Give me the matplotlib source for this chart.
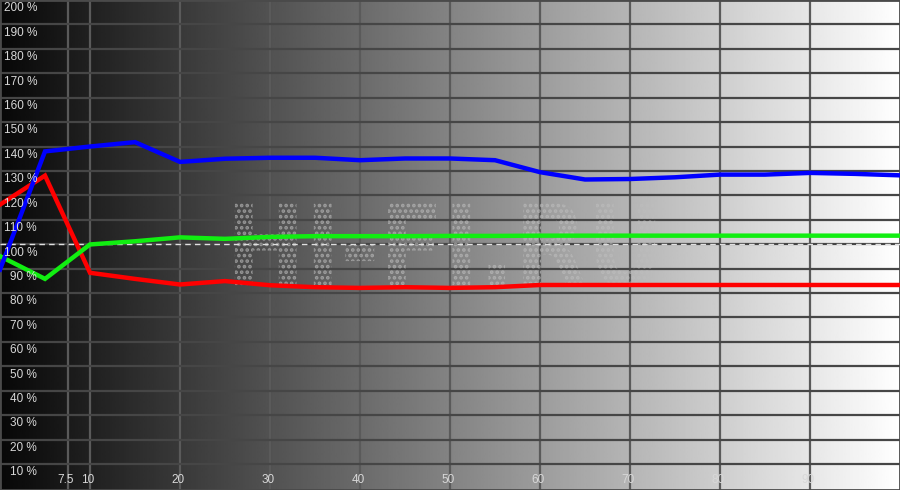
import numpy as np
import matplotlib
matplotlib.use("Agg")
import matplotlib.pyplot as plt
from matplotlib.textpath import TextPath
from matplotlib.patches import PathPatch
from matplotlib.font_manager import FontProperties
from matplotlib.transforms import Affine2D

# ---- data ----
x_vals = [0, 5, 10, 15, 20, 25, 30, 35, 40, 45, 50, 55, 60, 65, 70, 75, 80, 85, 90, 95, 100]
blue_vals = [89.6, 138.0, 140.0, 141.8, 133.7, 135.0, 135.4, 135.4, 134.4, 135.1, 135.1,
             134.4, 129.5, 126.5, 126.7, 127.4, 128.5, 128.5, 129.2, 128.8, 128.2]
red_vals = [116.2, 128.1, 88.3, 85.8, 83.5, 84.9, 83.2, 82.4, 82.1, 82.4, 82.1,
            82.4, 83.3, 83.3, 83.3, 83.3, 83.3, 83.3, 83.3, 83.3, 83.3]
green_vals = [95.1, 85.8, 99.9, 101.2, 102.8, 102.2, 103.0, 103.3, 103.3, 103.3, 103.4,
              103.4, 103.5, 103.5, 103.5, 103.5, 103.5, 103.5, 103.5, 103.5, 103.5]
x_ticks = [7.5, 10, 20, 30, 40, 50, 60, 70, 80, 90]
x_tick_labels = ["7.5", "10", "20", "30", "40", "50", "60", "70", "80", "90"]
y_ticks = list(range(10, 201, 10))
y_tick_labels = [f"{v} %" for v in y_ticks]
reference_level = 100
watermark = "HI-FI.RU"

fig = plt.figure(figsize=(9, 4.9), dpi=100)
ax = fig.add_axes([0, 0, 1, 1])
ax.set_xlim(0, 100)
ax.set_ylim(-0.65, 200)

# background gradient (black -> white)
grad = np.linspace(0.03, 1.0, 512).reshape(1, -1)
ax.imshow(grad, cmap="gray", vmin=0, vmax=1, aspect="auto",
          extent=[0, 100, -0.65, 200], zorder=0, interpolation="bilinear")

# grid
for xv in x_ticks:
    ax.axvline(xv, color="#5a5a5a", lw=1.6, zorder=1)
for yv in y_ticks:
    ax.axhline(yv, color="#464646", lw=1.6, zorder=1)

# watermark with dotted fill
fp = FontProperties(family="DejaVu Sans", weight="bold")
tp = TextPath((0, 0), watermark, size=50, prop=fp)
bb = tp.get_extents()
x0, x1, y0, y1 = 26.1, 72.8, 82.3, 117.0
sx = (x1 - x0) / bb.width
sy = (y1 - y0) / bb.height
tr = Affine2D().translate(-bb.x0, -bb.y0).scale(sx, sy).translate(x0, y0)
path = tr.transform_path(tp)
plt.rcParams["hatch.linewidth"] = 1.8
patch = PathPatch(path, facecolor="none", edgecolor=(0.74, 0.74, 0.74, 0.65),
                  hatch="...", lw=0, zorder=2)
ax.add_patch(patch)

# reference dashed line
ax.axhline(reference_level, color="#e0e0e0", lw=1.0, ls=(0, (4, 3)), zorder=3)

# series
ax.plot(x_vals, red_vals, color="#ff0000", lw=3.2, zorder=4, solid_joinstyle="miter")
ax.plot(x_vals, green_vals, color="#11ee11", lw=3.2, zorder=5, solid_joinstyle="miter")
ax.plot(x_vals, blue_vals, color="#0000ff", lw=3.2, zorder=6, solid_joinstyle="miter")

# tick labels drawn inside the plot
lab_font = dict(family="Liberation Sans", size=8.5, color="#d8d8d8")
for yv, lab in zip(y_ticks, y_tick_labels):
    ax.annotate(lab, xy=(37 / 900, yv), xycoords=("axes fraction", "data"),
                xytext=(0, -6), textcoords="offset points",
                ha="right", va="center", zorder=7, **lab_font)
for xv, lab in zip(x_ticks, x_tick_labels):
    ax.annotate(lab, xy=(xv, 0), xycoords=("data", "axes fraction"),
                xytext=(-1.5, 7.5), textcoords="offset points",
                ha="center", va="center", zorder=7, **lab_font)

ax.set_xticks([])
ax.set_yticks([])
for s in ax.spines.values():
    s.set_color("#4a4a4a")
    s.set_linewidth(2)

fig.savefig("out.png", dpi=100)
